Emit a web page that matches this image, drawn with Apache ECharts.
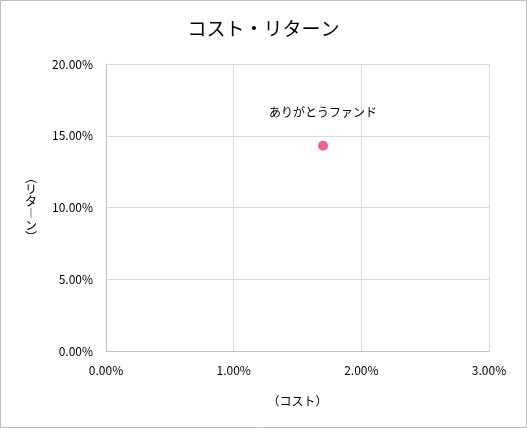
<!DOCTYPE html>
<html>
<head>
<meta charset="utf-8">
<script src="https://cdn.jsdelivr.net/npm/echarts@6/dist/echarts.min.js"></script>
<style>
	html, body { margin: 0; padding: 0; background: #fff; }
	#chart { width: 527px; height: 428px; }
</style>
</head>
<body>
<div id="chart"></div>
<script>
// データ
let fundNames = ['ありがとうファンド'];
let costValues = [1.70];
let returnValues = [14.3];

let font = '"Noto Sans CJK JP", "Noto Sans", sans-serif';

let myChart = echarts.init(document.getElementById('chart'));

let points = fundNames.map((name, i) => ({ name: name, value: [costValues[i], returnValues[i]] }));

let option = {
	backgroundColor: '#fff',
	textStyle: { fontFamily: font },
	title: {
		text: 'コスト・リターン',
		left: 'center',
		top: 14,
		textStyle: { fontSize: 19, fontWeight: 'normal', color: '#000', fontFamily: font }
	},
	graphic: [{
		type: 'rect',
		shape: { x: 0.5, y: 0.5, width: 526, height: 427 },
		style: { fill: 'none', stroke: '#bfbfbf', lineWidth: 1 },
		silent: true
	}],
	grid: { left: 106, right: 38, top: 64, bottom: 77 },
	xAxis: {
		type: 'value',
		min: 0,
		max: 3,
		interval: 1,
		name: '（コスト）',
		nameLocation: 'middle',
		nameGap: 44,
		nameTextStyle: { fontSize: 12, color: '#000' },
		axisLine: { show: true, lineStyle: { color: '#bfbfbf' } },
		axisTick: { show: false },
		axisLabel: { color: '#000', fontSize: 12, margin: 13, formatter: v => v.toFixed(2) + '%' },
		splitLine: { show: true, lineStyle: { color: '#d9d9d9' } }
	},
	yAxis: {
		type: 'value',
		min: 0,
		max: 20,
		interval: 5,
		name: '︵\nリ\nタ\n︱\nン\n︶',
		nameLocation: 'middle',
		nameRotate: 0,
		nameGap: 69,
		nameTextStyle: { fontSize: 12, color: '#000', lineHeight: 12 },
		axisLine: { show: true, lineStyle: { color: '#bfbfbf' } },
		axisTick: { show: false },
		axisLabel: { color: '#000', fontSize: 12, margin: 13, formatter: v => v.toFixed(2) + '%' },
		splitLine: { show: true, lineStyle: { color: '#d9d9d9' } }
	},
	series: [{
		type: 'scatter',
		data: points,
		symbolSize: 10,
		itemStyle: { color: '#ec6386', opacity: 1 },
		label: {
			show: true,
			position: 'top',
			distance: 22,
			formatter: '{b}',
			color: '#000',
			fontSize: 12
		}
	}]
};
myChart.setOption(option);
window.onresize = myChart.resize;
</script>
</body>
</html>
